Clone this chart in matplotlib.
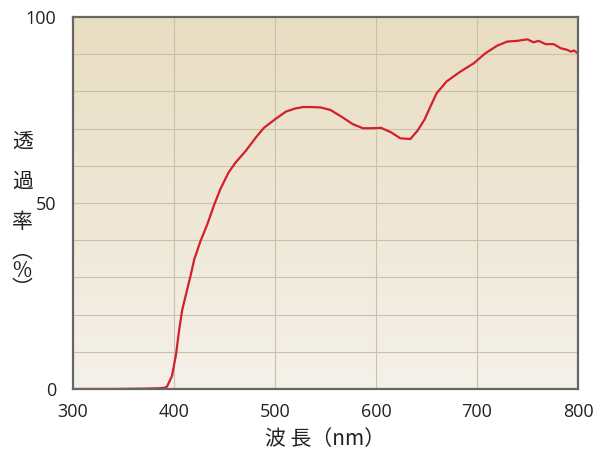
import numpy as np
import matplotlib.pyplot as plt
from matplotlib.colors import LinearSegmentedColormap

plt.rcParams['font.family'] = ['Open Sans', 'Noto Sans CJK JP', 'DejaVu Sans']

# 波長 (nm) と 透過率 (%) : 図から読み取った値
wavelength = [300, 340, 370, 385, 390, 393, 398, 402, 405, 408, 412, 416, 420,
              426, 433, 440, 446, 454, 461, 471, 481, 489, 501, 511, 520,
              528, 535, 545, 555, 567, 577, 587, 595, 605, 615, 624, 634,
              641, 648, 654, 660, 670, 684, 697, 708, 720, 730, 740, 750,
              756, 761, 768, 776, 783, 789, 793, 796, 800]
transmittance = [0.0, 0.0, 0.1, 0.2, 0.3, 0.6, 3.5, 9.3, 15.7, 21.1, 25.6, 30.0, 34.8,
                 39.6, 44.3, 49.7, 53.8, 58.2, 60.9, 64.0, 67.6, 70.2, 72.7, 74.6, 75.4,
                 75.8, 75.8, 75.7, 75.0, 73.0, 71.2, 70.1, 70.1, 70.2, 69.0, 67.4, 67.2,
                 69.4, 72.4, 76.0, 79.5, 82.7, 85.4, 87.6, 90.2, 92.3, 93.4, 93.6, 94.0,
                 93.2, 93.6, 92.7, 92.7, 91.6, 91.2, 90.7, 91.0, 90.2]

x_ticks = [300, 400, 500, 600, 700, 800]
y_ticks = [0, 50, 100]

fig = plt.figure(figsize=(6.0, 4.61), dpi=100)
ax = fig.add_axes([0.1217, 0.1562, 0.8416, 0.8069])

# 背景グラデーション
cmap = LinearSegmentedColormap.from_list('bg', ['#f4f1ea', '#e9ddc1'])
grad = np.linspace(0, 1, 256).reshape(-1, 1)
ax.imshow(grad, extent=[300, 800, 0, 100], origin='lower', aspect='auto',
          cmap=cmap, zorder=0)

for gx in [400, 500, 600, 700]:
    ax.axvline(gx, color='#c9c0ae', lw=0.8, zorder=1)
for gy in range(10, 100, 10):
    ax.axhline(gy, color='#c9c0ae', lw=0.8, zorder=1)

ax.plot(wavelength, transmittance, color='#d41f2b', lw=1.6, zorder=3)

ax.set_xlim(300, 800)
ax.set_ylim(0, 100)
ax.set_xticks(x_ticks)
ax.set_yticks(y_ticks)
ax.tick_params(length=0, labelsize=13, colors='#222222')
ax.tick_params(axis='x', pad=10)
ax.tick_params(axis='y', pad=12)

for s in ax.spines.values():
    s.set_color('#666666')
    s.set_linewidth(1.6)
    s.set_zorder(4)

ax.set_xlabel('波 長（nm）', fontsize=15, family=['Noto Sans CJK JP', 'DejaVu Sans'],
              labelpad=5, color='#222222')

# 縦書きの軸ラベル
cjk = ['Noto Sans CJK JP', 'DejaVu Sans']
fig.text(0.037, 0.605, '透\n過\n率', fontsize=15, ha='center', va='center',
         color='#222222', family=cjk, linespacing=2.05)
fig.text(0.037, 0.413, '︵\n%\n︶', fontsize=15, ha='center', va='center',
         color='#222222', family=cjk, linespacing=0.8)

fig.savefig('out.png', dpi=100)
